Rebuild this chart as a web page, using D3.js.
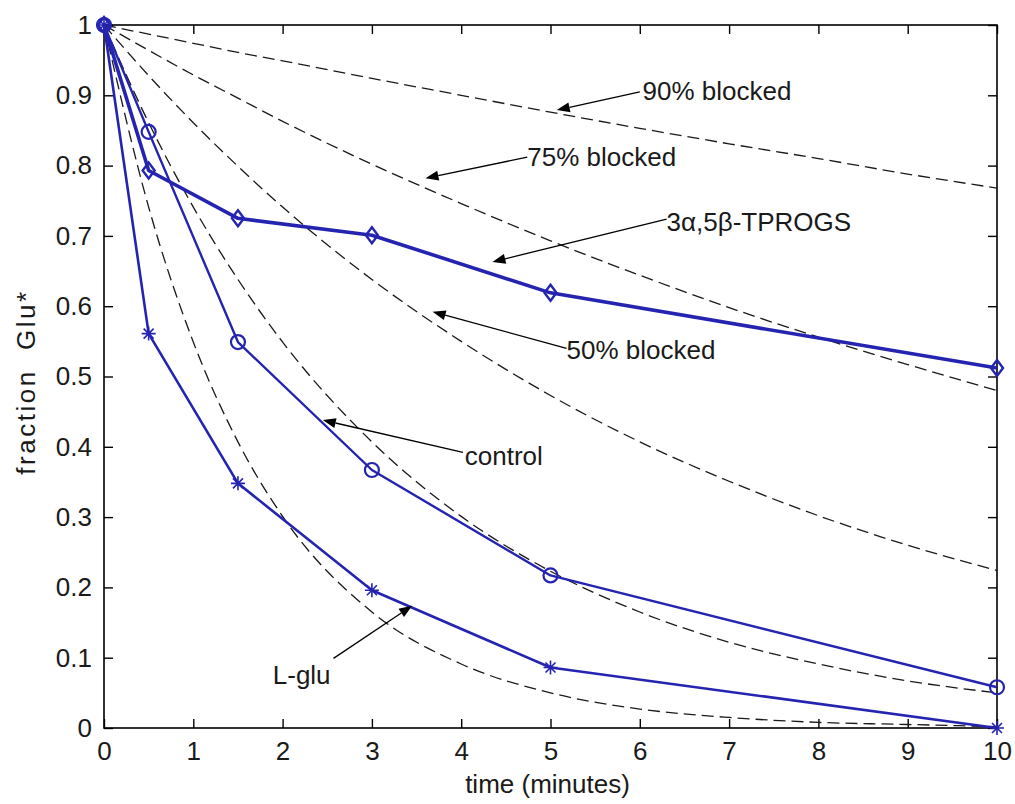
<!DOCTYPE html>
<html>
<head>
<meta charset="utf-8">
<script src="https://cdn.jsdelivr.net/npm/d3@7"></script>
<style>
  body { margin: 0; background: #fff; }
  svg { display: block; font-family: "Liberation Sans", Arial, sans-serif; }
</style>
</head>
<body>
<svg id="chart" width="1015" height="804"></svg>
<script>
(function() {

	// measured data
	var timePoints = [0, 0.5, 1.5, 3, 5, 10];
	var tprogs = [1, 0.793, 0.725, 0.701, 0.619, 0.512];
	var control = [1, 0.848, 0.549, 0.367, 0.217, 0.058];
	var lglu = [1, 0.561, 0.348, 0.196, 0.086, 0.0];

	// dashed reference curves
	var curveTimes = [0, 0.5, 1, 1.5, 2, 3, 4, 5, 6, 7, 8, 9, 10];
	var blocked90 = [1, 0.987, 0.974, 0.961, 0.949, 0.924, 0.900, 0.876, 0.853, 0.831, 0.810, 0.788, 0.768];
	var blocked75 = [1, 0.964, 0.929, 0.896, 0.863, 0.802, 0.746, 0.693, 0.644, 0.598, 0.556, 0.517, 0.480];
	var blocked50 = [1, 0.928, 0.861, 0.799, 0.741, 0.638, 0.550, 0.473, 0.407, 0.351, 0.302, 0.260, 0.224];
	var controlFit = [1, 0.861, 0.741, 0.638, 0.549, 0.407, 0.301, 0.223, 0.165, 0.122, 0.091, 0.067, 0.050];
	var lgluFit = [1, 0.741, 0.549, 0.407, 0.301, 0.165, 0.091, 0.050, 0.027, 0.015, 0.008, 0.005, 0.002];

	var xTicks = [0, 1, 2, 3, 4, 5, 6, 7, 8, 9, 10];
	var yTicks = [0, 0.1, 0.2, 0.3, 0.4, 0.5, 0.6, 0.7, 0.8, 0.9, 1];

	// annotation labels, arrow tail / tip and text position in data units
	var labels = ['90% blocked', '75% blocked', '3\u03b1,5\u03b2-TPROGS', '50% blocked', 'control', 'L-glu'];
	var labelTail = [[6.0, 0.905], [4.74, 0.812], [6.3, 0.724], [5.18, 0.540], [4.02, 0.392], [2.57, 0.099]];
	var labelHead = [[5.07, 0.879], [3.6, 0.782], [4.35, 0.663], [3.68, 0.592], [2.45, 0.438], [3.45, 0.174]];
	var labelPos = [[6.03, 0.906], [4.74, 0.812], [6.3, 0.72], [5.18, 0.538], [4.04, 0.387], [1.89, 0.075]];

	var BLUE = '#2424b0';
	var FONT = 26;

	var svg = d3.select('#chart');
	var left = 104, right = 997, top = 25, bottom = 728;

	var x = d3.scaleLinear().domain([0, 10]).range([left, right]);
	var y = d3.scaleLinear().domain([0, 1]).range([bottom, top]);

	// box
	svg.append('rect')
		.attr('x', left).attr('y', top)
		.attr('width', right - left).attr('height', bottom - top)
		.attr('fill', '#fff').attr('stroke', '#000').attr('stroke-width', 1.6);

	// ticks inside on all sides
	var tickLen = 9;
	var xAxisB = d3.axisBottom(x).tickValues(xTicks).tickSizeInner(-tickLen).tickSizeOuter(0).tickPadding(14)
		.tickFormat(d3.format('d'));
	var gxb = svg.append('g').attr('transform', 'translate(0,' + bottom + ')').call(xAxisB);
	var xAxisT = d3.axisTop(x).tickValues(xTicks).tickSizeInner(-tickLen).tickSizeOuter(0).tickFormat('');
	var gxt = svg.append('g').attr('transform', 'translate(0,' + top + ')').call(xAxisT);
	var yAxisL = d3.axisLeft(y).tickValues(yTicks).tickSizeInner(-tickLen).tickSizeOuter(0).tickPadding(12)
		.tickFormat(function(d) { return d === 0 || d === 1 ? String(d) : d3.format('.1f')(d); });
	var gyl = svg.append('g').attr('transform', 'translate(' + left + ',0)').call(yAxisL);
	var yAxisR = d3.axisRight(y).tickValues(yTicks).tickSizeInner(-tickLen).tickSizeOuter(0).tickFormat('');
	var gyr = svg.append('g').attr('transform', 'translate(' + right + ',0)').call(yAxisR);

	[gxb, gxt, gyl, gyr].forEach(function(g) {
		g.select('.domain').remove();
		g.selectAll('line').attr('stroke', '#000').attr('stroke-width', 1.4);
		g.selectAll('text').attr('font-size', FONT).attr('fill', '#1a1a1a')
			.attr('font-family', '"Liberation Sans", Arial, sans-serif');
	});
	gxb.selectAll('text').attr('dy', '0.71em').attr('y', 14);

	// axis titles
	svg.append('text')
		.attr('x', (left + right) / 2 - 3).attr('y', 793)
		.attr('text-anchor', 'middle').attr('font-size', FONT).attr('fill', '#1a1a1a')
		.text('time (minutes)');
	svg.append('text')
		.attr('transform', 'translate(35,382) rotate(-90)')
		.attr('text-anchor', 'middle').attr('font-size', FONT).attr('fill', '#1a1a1a')
		.attr('letter-spacing', 2.5)
		.style('white-space', 'pre')
		.text('fraction  Glu*');

	// dashed reference curves
	var curveLine = d3.line()
		.x(function(d) { return x(d[0]); })
		.y(function(d) { return y(d[1]); })
		.curve(d3.curveMonotoneX);
	[blocked90, blocked75, blocked50, controlFit, lgluFit].forEach(function(vals) {
		svg.append('path')
			.datum(curveTimes.map(function(t, i) { return [t, vals[i]]; }))
			.attr('d', curveLine)
			.attr('fill', 'none')
			.attr('stroke', '#1a1a1a')
			.attr('stroke-width', 1.3)
			.attr('stroke-dasharray', '12,6');
	});

	// data series
	var dataLine = d3.line()
		.x(function(d) { return x(d[0]); })
		.y(function(d) { return y(d[1]); });

	function drawSeries(vals, width, marker) {
		var pts = timePoints.map(function(t, i) { return [t, vals[i]]; });
		svg.append('path')
			.datum(pts)
			.attr('d', dataLine)
			.attr('fill', 'none')
			.attr('stroke', BLUE)
			.attr('stroke-width', width)
			.attr('stroke-linejoin', 'round');
		var g = svg.append('g');
		pts.forEach(function(p) {
			var cx = x(p[0]), cy = y(p[1]);
			if (marker === 'circle') {
				g.append('circle').attr('cx', cx).attr('cy', cy).attr('r', 7)
					.attr('fill', 'none').attr('stroke', BLUE).attr('stroke-width', 2.2);
			} else if (marker === 'diamond') {
				g.append('path')
					.attr('d', 'M' + cx + ',' + (cy - 8) + 'L' + (cx + 6) + ',' + cy + 'L' + cx + ',' + (cy + 8) + 'L' + (cx - 6) + ',' + cy + 'Z')
					.attr('fill', 'none').attr('stroke', BLUE).attr('stroke-width', 2.4);
			} else {
				var s = 7, sd = 5;
				g.append('path')
					.attr('d', 'M' + (cx - s) + ',' + cy + 'L' + (cx + s) + ',' + cy +
						'M' + cx + ',' + (cy - s) + 'L' + cx + ',' + (cy + s) +
						'M' + (cx - sd) + ',' + (cy - sd) + 'L' + (cx + sd) + ',' + (cy + sd) +
						'M' + (cx - sd) + ',' + (cy + sd) + 'L' + (cx + sd) + ',' + (cy - sd))
					.attr('fill', 'none').attr('stroke', BLUE).attr('stroke-width', 1.6);
			}
		});
	}

	drawSeries(lglu, 2.6, 'star');
	drawSeries(control, 2.4, 'circle');
	drawSeries(tprogs, 3.6, 'diamond');

	// annotations
	labels.forEach(function(txt, i) {
		var tx = x(labelTail[i][0]), ty = y(labelTail[i][1]);
		var hx = x(labelHead[i][0]), hy = y(labelHead[i][1]);
		var ang = Math.atan2(hy - ty, hx - tx);
		var len = 13, hw = 5;
		var bx = hx - len * Math.cos(ang), by = hy - len * Math.sin(ang);
		svg.append('line')
			.attr('x1', tx).attr('y1', ty).attr('x2', bx).attr('y2', by)
			.attr('stroke', '#000').attr('stroke-width', 1.3);
		svg.append('path')
			.attr('d', 'M' + hx + ',' + hy +
				'L' + (bx + hw * Math.sin(ang)) + ',' + (by - hw * Math.cos(ang)) +
				'L' + (bx - hw * Math.sin(ang)) + ',' + (by + hw * Math.cos(ang)) + 'Z')
			.attr('fill', '#000');
		svg.append('text')
			.attr('x', x(labelPos[i][0])).attr('y', y(labelPos[i][1]))
			.attr('dy', '0.35em')
			.attr('font-size', FONT).attr('fill', '#1a1a1a')
			.text(txt);
	});
}());
</script>
</body>
</html>
